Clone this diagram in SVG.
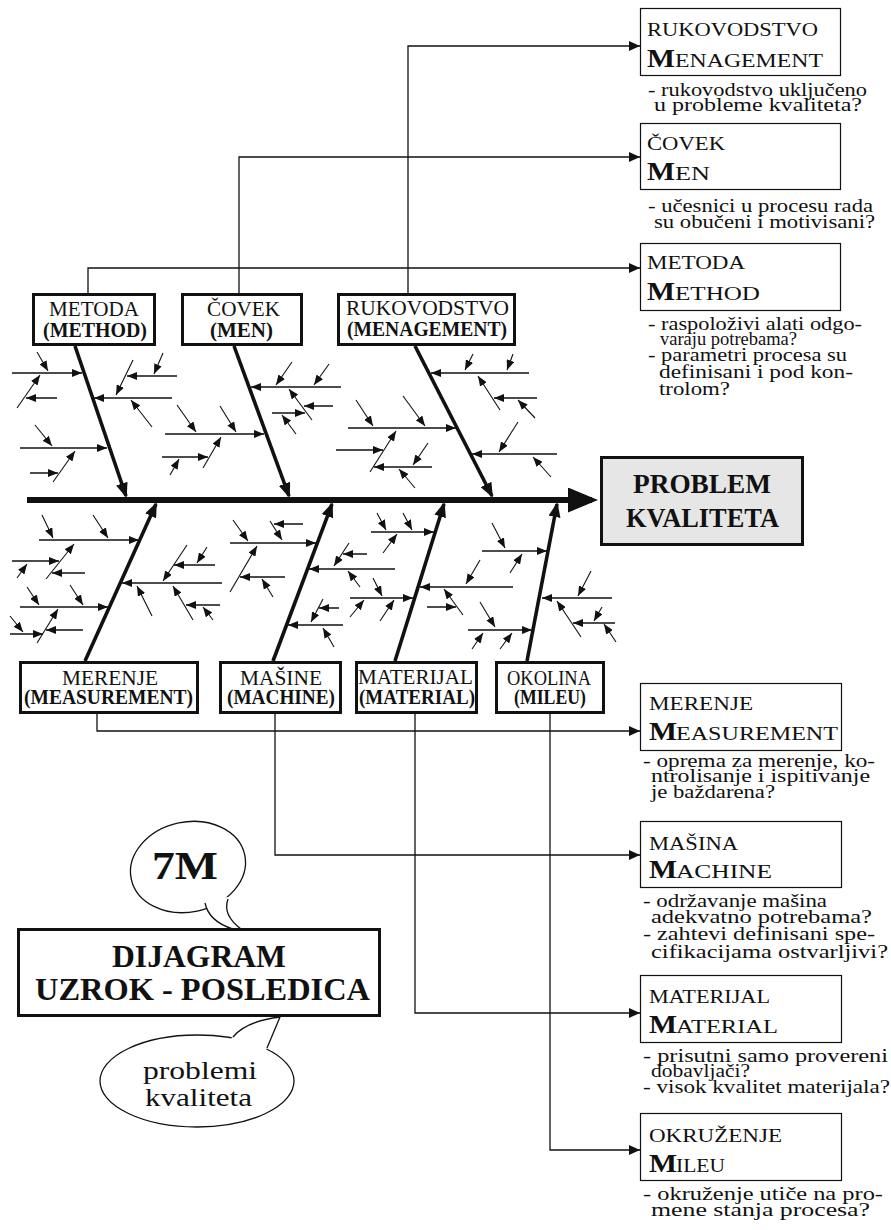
<svg xmlns="http://www.w3.org/2000/svg" width="891" height="1230" viewBox="0 0 891 1230">
<style>
  text{font-family:"Liberation Serif","Times New Roman","DejaVu Serif",serif;fill:#111}
  .lb{font-size:20px}
  .lbb{font-size:20px;font-weight:bold}
  .rt{font-size:18px}
  .rm{font-size:26px;font-weight:bold}
  .ds{font-size:19px}
  .big{font-weight:bold}
  .h{stroke:#111;stroke-width:1.5;marker-end:url(#s)}
  .d{stroke:#111;stroke-width:1.1;marker-end:url(#s)}
  .bone{stroke:#111;stroke-width:3.6;marker-end:url(#m)}
  .spine{stroke:#111;stroke-width:6;marker-end:url(#sp)}
  .conn{fill:none;stroke:#111;stroke-width:1.3;marker-end:url(#c)}
  .lbox{fill:#fff;stroke:#111;stroke-width:3}
  .rbox{fill:#fff;stroke:#111;stroke-width:1.2}
  .bub{fill:#fff;stroke:#111;stroke-width:1.3}
</style>
<defs>
  <marker id="s" markerUnits="userSpaceOnUse" viewBox="0 0 10 8" markerWidth="10" markerHeight="8" refX="10" refY="4" orient="auto"><path d="M0,0L10,4L0,8z" fill="#111"/></marker>
  <marker id="m" markerUnits="userSpaceOnUse" viewBox="0 0 15 12" markerWidth="15" markerHeight="12" refX="13" refY="6" orient="auto"><path d="M0,0L15,6L0,12z" fill="#111"/></marker>
  <marker id="sp" markerUnits="userSpaceOnUse" viewBox="0 0 30 25" markerWidth="30" markerHeight="25" refX="24" refY="12.5" orient="auto"><path d="M0,0L30,12.5L0,25z" fill="#111"/></marker>
  <marker id="c" markerUnits="userSpaceOnUse" viewBox="0 0 11 10" markerWidth="11" markerHeight="10" refX="11" refY="5" orient="auto"><path d="M0,0L11,5L0,10z" fill="#111"/></marker>
</defs>
<rect width="891" height="1230" fill="#fff"/>

<!-- connectors from category boxes to the explanation boxes -->
<g id="connectors">
  <path class="conn" d="M88,293V268H640"/>
  <path class="conn" d="M239,293V157H640"/>
  <path class="conn" d="M408,293V46H640"/>
  <path class="conn" d="M97,713V731H640"/>
  <path class="conn" d="M275,713V855H640"/>
  <path class="conn" d="M415,713V1013H640"/>
  <path class="conn" d="M550,713V1150H640"/>
</g>

<!-- fishbone: spine, main bones and sub-causes -->
<g id="fishbone">
  <line class="spine" x1="27" y1="500" x2="592" y2="500"/>
  <line class="bone" x1="75" y1="346" x2="126" y2="496"/>
  <line class="bone" x1="234" y1="346" x2="289" y2="496"/>
  <line class="bone" x1="415" y1="346" x2="492" y2="496"/>
  <line class="bone" x1="85" y1="661" x2="156" y2="504"/>
  <line class="bone" x1="273" y1="661" x2="332" y2="504"/>
  <line class="bone" x1="395" y1="661" x2="444" y2="504"/>
  <line class="bone" x1="527" y1="661" x2="557" y2="504"/>

  <!-- method branch -->
  <line class="h" x1="12" y1="373" x2="82" y2="373"/>
  <line class="d" x1="37" y1="352" x2="48" y2="371"/>
  <line class="d" x1="17" y1="408" x2="40" y2="375"/>
  <line class="h" x1="57" y1="398" x2="26" y2="398"/>
  <line class="h" x1="172" y1="398" x2="94" y2="398"/>
  <line class="d" x1="133" y1="360" x2="116" y2="395"/>
  <line class="h" x1="177" y1="376" x2="127" y2="376"/>
  <line class="d" x1="163" y1="353" x2="154" y2="374"/>
  <line class="d" x1="152" y1="427" x2="131" y2="400"/>
  <line class="h" x1="20" y1="448" x2="107" y2="448"/>
  <line class="d" x1="35" y1="425" x2="52" y2="446"/>
  <line class="d" x1="53" y1="482" x2="75" y2="451"/>
  <line class="h" x1="30" y1="473" x2="58" y2="473"/>

  <!-- men branch -->
  <line class="h" x1="165" y1="434" x2="264" y2="434"/>
  <line class="d" x1="177" y1="405" x2="196" y2="432"/>
  <line class="d" x1="220" y1="406" x2="236" y2="432"/>
  <line class="d" x1="203" y1="468" x2="221" y2="437"/>
  <line class="h" x1="162" y1="457" x2="208" y2="457"/>
  <line class="d" x1="170" y1="475" x2="179" y2="459"/>
  <line class="h" x1="341" y1="387" x2="251" y2="387"/>
  <line class="d" x1="292" y1="362" x2="276" y2="385"/>
  <line class="d" x1="329" y1="364" x2="314" y2="385"/>
  <line class="d" x1="312" y1="420" x2="289" y2="389"/>
  <line class="h" x1="333" y1="406" x2="304" y2="406"/>
  <line class="h" x1="272" y1="413" x2="305" y2="413"/>
  <line class="d" x1="296" y1="434" x2="282" y2="415"/>

  <!-- management branch -->
  <line class="h" x1="529" y1="373" x2="431" y2="373"/>
  <line class="d" x1="473" y1="354" x2="465" y2="370"/>
  <line class="d" x1="513" y1="354" x2="507" y2="370"/>
  <line class="d" x1="500" y1="410" x2="478" y2="376"/>
  <line class="h" x1="537" y1="398" x2="494" y2="398"/>
  <line class="d" x1="535" y1="418" x2="518" y2="400"/>
  <line class="h" x1="348" y1="428" x2="456" y2="428"/>
  <line class="d" x1="356" y1="400" x2="373" y2="426"/>
  <line class="d" x1="403" y1="396" x2="425" y2="426"/>
  <line class="d" x1="370" y1="472" x2="396" y2="431"/>
  <line class="h" x1="336" y1="450" x2="383" y2="450"/>
  <line class="h" x1="432" y1="467" x2="374" y2="467"/>
  <line class="d" x1="428" y1="443" x2="413" y2="465"/>
  <line class="d" x1="415" y1="488" x2="399" y2="469"/>
  <line class="h" x1="557" y1="454" x2="472" y2="454"/>
  <line class="d" x1="518" y1="422" x2="499" y2="452"/>
  <line class="d" x1="551" y1="477" x2="533" y2="457"/>

  <!-- measurement branch -->
  <line class="h" x1="39" y1="540" x2="139" y2="540"/>
  <line class="d" x1="42" y1="515" x2="53" y2="538"/>
  <line class="d" x1="93" y1="515" x2="108" y2="538"/>
  <line class="d" x1="46" y1="579" x2="74" y2="544"/>
  <line class="h" x1="12" y1="561" x2="59" y2="561"/>
  <line class="d" x1="17" y1="578" x2="27" y2="564"/>
  <line class="h" x1="85" y1="573" x2="52" y2="573"/>
  <line class="h" x1="20" y1="607" x2="108" y2="607"/>
  <line class="d" x1="27" y1="587" x2="39" y2="605"/>
  <line class="d" x1="70" y1="585" x2="83" y2="605"/>
  <line class="d" x1="37" y1="643" x2="58" y2="609"/>
  <line class="h" x1="10" y1="634" x2="43" y2="634"/>
  <line class="d" x1="10" y1="616" x2="23" y2="632"/>
  <line class="h" x1="83" y1="630" x2="46" y2="630"/>
  <line class="h" x1="222" y1="583" x2="122" y2="583"/>
  <line class="d" x1="187" y1="545" x2="163" y2="581"/>
  <line class="h" x1="215" y1="565" x2="174" y2="565"/>
  <line class="d" x1="207" y1="547" x2="197" y2="563"/>
  <line class="d" x1="152" y1="616" x2="137" y2="586"/>
  <line class="d" x1="193" y1="620" x2="173" y2="586"/>
  <line class="h" x1="220" y1="605" x2="186" y2="605"/>
  <line class="d" x1="213" y1="620" x2="203" y2="607"/>

  <!-- machine branch -->
  <line class="h" x1="230" y1="543" x2="316" y2="543"/>
  <line class="d" x1="233" y1="520" x2="248" y2="541"/>
  <line class="d" x1="270" y1="521" x2="282" y2="540"/>
  <line class="h" x1="303" y1="524" x2="274" y2="524"/>
  <line class="d" x1="230" y1="592" x2="257" y2="546"/>
  <line class="h" x1="285" y1="577" x2="240" y2="577"/>
  <line class="d" x1="273" y1="597" x2="262" y2="579"/>
  <line class="h" x1="395" y1="569" x2="309" y2="569"/>
  <line class="d" x1="349" y1="543" x2="334" y2="566"/>
  <line class="h" x1="367" y1="554" x2="343" y2="554"/>
  <line class="d" x1="360" y1="587" x2="348" y2="571"/>
  <line class="h" x1="343" y1="625" x2="288" y2="625"/>
  <line class="d" x1="323" y1="599" x2="311" y2="622"/>
  <line class="h" x1="339" y1="608" x2="319" y2="608"/>
  <line class="d" x1="334" y1="647" x2="323" y2="628"/>

  <!-- material branch -->
  <line class="h" x1="371" y1="532" x2="434" y2="532"/>
  <line class="d" x1="377" y1="513" x2="386" y2="530"/>
  <line class="d" x1="403" y1="513" x2="412" y2="530"/>
  <line class="d" x1="383" y1="553" x2="397" y2="534"/>
  <line class="h" x1="350" y1="598" x2="413" y2="598"/>
  <line class="d" x1="373" y1="578" x2="382" y2="596"/>
  <line class="d" x1="350" y1="617" x2="364" y2="600"/>
  <line class="d" x1="380" y1="621" x2="394" y2="600"/>
  <line class="h" x1="513" y1="587" x2="420" y2="587"/>
  <line class="d" x1="480" y1="560" x2="466" y2="584"/>
  <line class="d" x1="463" y1="615" x2="444" y2="589"/>
  <line class="h" x1="427" y1="607" x2="456" y2="607"/>

  <!-- environment branch -->
  <line class="h" x1="482" y1="551" x2="547" y2="551"/>
  <line class="d" x1="492" y1="523" x2="505" y2="548"/>
  <line class="d" x1="510" y1="573" x2="522" y2="554"/>
  <line class="h" x1="468" y1="630" x2="532" y2="630"/>
  <line class="d" x1="480" y1="602" x2="495" y2="627"/>
  <line class="d" x1="472" y1="649" x2="483" y2="633"/>
  <line class="d" x1="500" y1="649" x2="512" y2="633"/>
  <line class="h" x1="612" y1="598" x2="542" y2="598"/>
  <line class="d" x1="591" y1="571" x2="578" y2="596"/>
  <line class="d" x1="581" y1="637" x2="557" y2="601"/>
  <line class="h" x1="615" y1="623" x2="573" y2="623"/>
  <line class="d" x1="602" y1="607" x2="594" y2="621"/>
  <line class="d" x1="616" y1="642" x2="604" y2="624"/>
</g>

<!-- effect -->
<g id="problem">
  <rect x="601.5" y="457.5" width="201" height="87" fill="#e6e6e6" stroke="#111" stroke-width="3"/>
  <text class="big" x="633" y="493" font-size="27" textLength="138" lengthAdjust="spacingAndGlyphs">PROBLEM</text>
  <text class="big" x="626" y="527" font-size="27" textLength="153" lengthAdjust="spacingAndGlyphs">KVALITETA</text>
</g>

<!-- category boxes above the spine -->
<g id="metoda">
  <rect class="lbox" x="33.5" y="294.5" width="121" height="50"/>
  <text class="lb" x="49" y="316" textLength="90" lengthAdjust="spacingAndGlyphs">METODA</text>
  <text class="lbb" x="43" y="337" textLength="104" lengthAdjust="spacingAndGlyphs">(METHOD)</text>
</g>
<g id="covek">
  <rect class="lbox" x="182.5" y="294.5" width="119" height="50"/>
  <text class="lb" x="207" y="316" textLength="73" lengthAdjust="spacingAndGlyphs">ČOVEK</text>
  <text class="lbb" x="210" y="337" textLength="63" lengthAdjust="spacingAndGlyphs">(MEN)</text>
</g>
<g id="rukovodstvo">
  <rect class="lbox" x="338.5" y="294.5" width="176" height="50"/>
  <text class="lb" x="346" y="315" textLength="163" lengthAdjust="spacingAndGlyphs">RUKOVODSTVO</text>
  <text class="lbb" x="347" y="336" textLength="160" lengthAdjust="spacingAndGlyphs">(MENAGEMENT)</text>
</g>

<!-- category boxes below the spine -->
<g id="merenje">
  <rect class="lbox" x="20.5" y="662.5" width="177" height="50"/>
  <text class="lb" x="62" y="685" textLength="96" lengthAdjust="spacingAndGlyphs">MERENJE</text>
  <text class="lbb" x="24" y="704" textLength="169" lengthAdjust="spacingAndGlyphs">(MEASUREMENT)</text>
</g>
<g id="masine">
  <rect class="lbox" x="220.5" y="662.5" width="120" height="50"/>
  <text class="lb" x="240" y="685" textLength="82" lengthAdjust="spacingAndGlyphs">MAŠINE</text>
  <text class="lbb" x="227" y="704" textLength="108" lengthAdjust="spacingAndGlyphs">(MACHINE)</text>
</g>
<g id="materijal">
  <rect class="lbox" x="356.5" y="662.5" width="120" height="50"/>
  <text class="lb" x="358" y="684" textLength="115" lengthAdjust="spacingAndGlyphs">MATERIJAL</text>
  <text class="lbb" x="359" y="704" textLength="116" lengthAdjust="spacingAndGlyphs">(MATERIAL)</text>
</g>
<g id="okolina">
  <rect class="lbox" x="496.5" y="662.5" width="107" height="50"/>
  <text class="lb" x="507" y="685" textLength="84" lengthAdjust="spacingAndGlyphs">OKOLINA</text>
  <text class="lbb" x="514" y="704" textLength="72" lengthAdjust="spacingAndGlyphs">(MILEU)</text>
</g>

<!-- explanation boxes on the right -->
<g id="r-menagement">
  <rect class="rbox" x="640.5" y="8.5" width="200" height="67"/>
  <text class="rt" x="647" y="36" textLength="171" lengthAdjust="spacingAndGlyphs">RUKOVODSTVO</text>
  <text class="rm" x="647" y="67" textLength="28" lengthAdjust="spacingAndGlyphs">M</text>
  <text class="rt" x="675" y="67" textLength="148" lengthAdjust="spacingAndGlyphs">ENAGEMENT</text>
  <text class="ds" x="648" y="96" textLength="219" lengthAdjust="spacingAndGlyphs">- rukovodstvo uključeno</text>
  <text class="ds" x="654" y="111" textLength="208" lengthAdjust="spacingAndGlyphs">u probleme kvaliteta?</text>
</g>
<g id="r-men">
  <rect class="rbox" x="640.5" y="123.5" width="200" height="66"/>
  <text class="rt" x="647" y="150" textLength="78" lengthAdjust="spacingAndGlyphs">ČOVEK</text>
  <text class="rm" x="647" y="180" textLength="28" lengthAdjust="spacingAndGlyphs">M</text>
  <text class="rt" x="675" y="180" textLength="35" lengthAdjust="spacingAndGlyphs">EN</text>
  <text class="ds" x="648" y="212" textLength="225" lengthAdjust="spacingAndGlyphs">- učesnici u procesu rada</text>
  <text class="ds" x="654" y="228" textLength="221" lengthAdjust="spacingAndGlyphs">su obučeni i motivisani?</text>
</g>
<g id="r-method">
  <rect class="rbox" x="640.5" y="243.5" width="200" height="67"/>
  <text class="rt" x="647" y="269" textLength="98" lengthAdjust="spacingAndGlyphs">METODA</text>
  <text class="rm" x="647" y="300" textLength="28" lengthAdjust="spacingAndGlyphs">M</text>
  <text class="rt" x="675" y="300" textLength="85" lengthAdjust="spacingAndGlyphs">ETHOD</text>
  <text class="ds" x="648" y="330" textLength="214" lengthAdjust="spacingAndGlyphs">- raspoloživi alati odgo-</text>
  <text class="ds" x="660" y="345" textLength="137" lengthAdjust="spacingAndGlyphs">varaju potrebama?</text>
  <text class="ds" x="648" y="361" textLength="199" lengthAdjust="spacingAndGlyphs">- parametri procesa su</text>
  <text class="ds" x="659" y="378" textLength="194" lengthAdjust="spacingAndGlyphs">definisani i pod kon-</text>
  <text class="ds" x="659" y="395" textLength="71" lengthAdjust="spacingAndGlyphs">trolom?</text>
</g>
<g id="r-measurement">
  <rect class="rbox" x="640.5" y="683.5" width="201" height="67"/>
  <text class="rt" x="649" y="710" textLength="104" lengthAdjust="spacingAndGlyphs">MERENJE</text>
  <text class="rm" x="649" y="740" textLength="28" lengthAdjust="spacingAndGlyphs">M</text>
  <text class="rt" x="676" y="740" textLength="162" lengthAdjust="spacingAndGlyphs">EASUREMENT</text>
  <text class="ds" x="643" y="767" textLength="232" lengthAdjust="spacingAndGlyphs">- oprema za merenje, ko-</text>
  <text class="ds" x="651" y="782" textLength="219" lengthAdjust="spacingAndGlyphs">ntrolisanje i ispitivanje</text>
  <text class="ds" x="651" y="798" textLength="124" lengthAdjust="spacingAndGlyphs">je baždarena?</text>
</g>
<g id="r-machine">
  <rect class="rbox" x="640.5" y="821.5" width="201" height="66"/>
  <text class="rt" x="649" y="850" textLength="89" lengthAdjust="spacingAndGlyphs">MAŠINA</text>
  <text class="rm" x="649" y="878" textLength="28" lengthAdjust="spacingAndGlyphs">M</text>
  <text class="rt" x="676" y="878" textLength="96" lengthAdjust="spacingAndGlyphs">ACHINE</text>
  <text class="ds" x="643" y="907" textLength="184" lengthAdjust="spacingAndGlyphs">- održavanje mašina</text>
  <text class="ds" x="651" y="923" textLength="221" lengthAdjust="spacingAndGlyphs">adekvatno potrebama?</text>
  <text class="ds" x="643" y="940" textLength="232" lengthAdjust="spacingAndGlyphs">- zahtevi definisani spe-</text>
  <text class="ds" x="651" y="958" textLength="237" lengthAdjust="spacingAndGlyphs">cifikacijama ostvarljivi?</text>
</g>
<g id="r-material">
  <rect class="rbox" x="640.5" y="975.5" width="201" height="67"/>
  <text class="rt" x="649" y="1003" textLength="121" lengthAdjust="spacingAndGlyphs">MATERIJAL</text>
  <text class="rm" x="649" y="1033" textLength="28" lengthAdjust="spacingAndGlyphs">M</text>
  <text class="rt" x="676" y="1033" textLength="102" lengthAdjust="spacingAndGlyphs">ATERIAL</text>
  <text class="ds" x="643" y="1062" textLength="245" lengthAdjust="spacingAndGlyphs">- prisutni samo provereni</text>
  <text class="ds" x="651" y="1077" textLength="99" lengthAdjust="spacingAndGlyphs">dobavljači?</text>
  <text class="ds" x="643" y="1093" textLength="247" lengthAdjust="spacingAndGlyphs">- visok kvalitet materijala?</text>
</g>
<g id="r-mileu">
  <rect class="rbox" x="640.5" y="1113.5" width="201" height="67"/>
  <text class="rt" x="649" y="1142" textLength="133" lengthAdjust="spacingAndGlyphs">OKRUŽENJE</text>
  <text class="rm" x="649" y="1172" textLength="28" lengthAdjust="spacingAndGlyphs">M</text>
  <text class="rt" x="676" y="1172" textLength="49" lengthAdjust="spacingAndGlyphs">ILEU</text>
  <text class="ds" x="643" y="1200" textLength="240" lengthAdjust="spacingAndGlyphs">- okruženje utiče na pro-</text>
  <text class="ds" x="651" y="1216" textLength="219" lengthAdjust="spacingAndGlyphs">mene stanja procesa?</text>
</g>

<!-- title block with speech bubbles -->
<g id="bubble-7m">
  <ellipse class="bub" cx="188" cy="867" rx="58" ry="45" transform="rotate(-12 188 867)"/>
  <path d="M203,900 C207,916 220,925 233,930 L241,930 C229,920 224,910 229,897 Z" fill="#fff"/>
  <path d="M205,903 C208,917 220,925 233,929 M241,929 C229,920 224,910 228,899" fill="none" stroke="#111" stroke-width="1.3"/>
  <text class="big" x="152" y="879" font-size="40" textLength="66" lengthAdjust="spacingAndGlyphs">7M</text>
</g>
<g id="title">
  <rect class="lbox" x="18.5" y="929.5" width="361" height="86"/>
  <text class="big" x="112" y="967" font-size="31" textLength="174" lengthAdjust="spacingAndGlyphs">DIJAGRAM</text>
  <text class="big" x="35" y="1000" font-size="31" textLength="335" lengthAdjust="spacingAndGlyphs">UZROK - POSLEDICA</text>
</g>
<g id="bubble-problemi">
  <ellipse class="bub" cx="197" cy="1081" rx="97" ry="46"/>
  <path d="M230,1040 C240,1028 255,1020 280,1017 L266,1050 Z" fill="#fff"/>
  <path d="M233,1037 C241,1027 256,1020 280,1017 L267,1048" fill="none" stroke="#111" stroke-width="1.3"/>
  <text x="143" y="1079" font-size="26" textLength="114" lengthAdjust="spacingAndGlyphs">problemi</text>
  <text x="145" y="1106" font-size="26" textLength="107" lengthAdjust="spacingAndGlyphs">kvaliteta</text>
</g>
</svg>
